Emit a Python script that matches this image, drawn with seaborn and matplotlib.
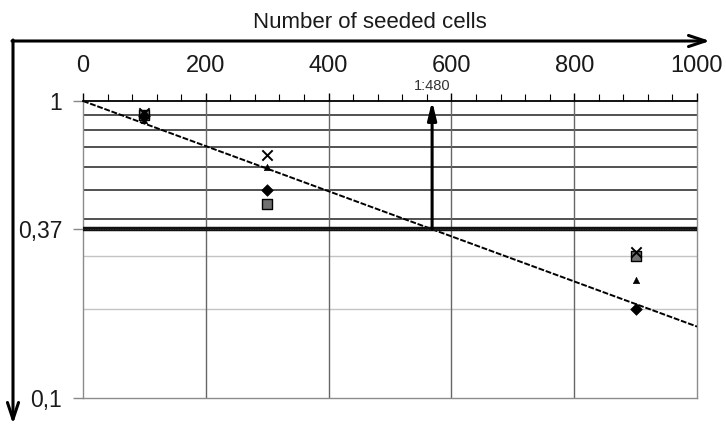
import numpy as np
import pandas as pd
import matplotlib
matplotlib.use("Agg")
import matplotlib.pyplot as plt
from matplotlib.patches import FancyArrowPatch
from matplotlib.ticker import FixedLocator, NullLocator, MultipleLocator
import seaborn as sns

# Seeded cells per well and the fraction of negative wells for each replicate
cells = [100, 300, 900]
rep_cross = [0.91, 0.66, 0.31]
rep_square = [0.90, 0.45, 0.30]
rep_diamond = [0.89, 0.50, 0.20]
rep_triangle = [0.86, 0.60, 0.25]

# Poisson fit through the origin (fraction negative = 1 at 0 cells)
fit_cells = [0, 1000]
fit_fraction = [1.0, 0.174]

# 37 % negative wells marks one responding cell per well
threshold = 0.37
frequency_label = "1:480"

x_ticks = [0, 200, 400, 600, 800, 1000]
y_ticks = [0.1, 0.37, 1.0]
y_tick_labels = ["0,1", "0,37", "1"]
y_grid = [0.2, 0.3, 0.4, 0.5, 0.6, 0.7, 0.8, 0.9]

sns.set_theme(style="white")
plt.rcParams["font.family"] = ["Liberation Sans", "DejaVu Sans"]
plt.rcParams["text.color"] = "#1a1a1a"

fig = plt.figure(figsize=(7.26, 4.26), dpi=100)
ax = fig.add_axes([83 / 726, 28 / 426, 614 / 726, 297 / 426])
ax.set_yscale("log")
ax.set_xlim(0, 1000)
ax.set_ylim(0.1, 1.0)

# grid
for v in y_grid:
    ax.axhline(v, color="#333333" if v >= 0.4 else "#c4c4c4",
               lw=1.2 if v >= 0.4 else 1.0, zorder=1)
for v in x_ticks[1:-1]:
    ax.axvline(v, color="#666666", lw=1.0, zorder=1)

# fitted line
fit_df = pd.DataFrame({"cells": fit_cells, "fraction": fit_fraction})
sns.lineplot(data=fit_df, x="cells", y="fraction", ax=ax, color="black",
             lw=1.4, linestyle=(0, (3, 0.9)), zorder=3)

# 37 % level: heavy line with a faint dotted texture
ax.axhline(threshold, color="#111111", lw=3.2, zorder=4)
ax.axhline(threshold, color="#555555", lw=0.6, linestyle=(0, (0.6, 1.4)), zorder=4)

# replicates
data = pd.DataFrame({"cells": cells, "cross": rep_cross, "square": rep_square,
                     "diamond": rep_diamond, "triangle": rep_triangle})
sns.scatterplot(data=data, x="cells", y="square", ax=ax, marker="s", s=55,
                color="#707070", edgecolor="black", linewidth=1.0, zorder=5)
sns.scatterplot(data=data, x="cells", y="diamond", ax=ax, marker="D", s=35,
                color="black", edgecolor="black", zorder=5)
sns.scatterplot(data=data, x="cells", y="triangle", ax=ax, marker="^", s=22,
                color="black", edgecolor="black", zorder=5)
sns.scatterplot(data=data, x="cells", y="cross", ax=ax, marker="x", s=55,
                color="black", linewidth=1.4, zorder=6)

# cell number giving 37 % negative wells, from the fit
slope = np.log(fit_fraction[1] / fit_fraction[0]) / (fit_cells[1] - fit_cells[0])
x_cross = np.log(threshold / fit_fraction[0]) / slope
ax.annotate("", xy=(x_cross, 1.0), xytext=(x_cross, threshold),
            arrowprops=dict(arrowstyle="-|>,head_length=0.9,head_width=0.22",
                            color="black", lw=2.2, shrinkA=0, shrinkB=0),
            zorder=7)
ax.annotate(frequency_label, xy=(x_cross, 1.0), xytext=(0, 6),
            textcoords="offset points", ha="center", va="bottom", fontsize=10.5,
            color="#333333")

# axes styling
ax.xaxis.tick_top()
ax.set_xticks(x_ticks)
ax.set_xticklabels([str(t) for t in x_ticks])
ax.xaxis.set_minor_locator(MultipleLocator(40))
ax.tick_params(axis="x", which="major", direction="out", length=6, width=1,
               color="black", labelsize=17, pad=11, labelcolor="#1a1a1a")
ax.tick_params(axis="x", which="minor", direction="out", length=5, width=0.8,
               color="black", top=True, bottom=False)
ax.yaxis.set_major_locator(FixedLocator(y_ticks))
ax.yaxis.set_minor_locator(NullLocator())
ax.set_yticklabels(y_tick_labels)
ax.tick_params(axis="y", which="major", direction="out", length=7, width=1,
               color="#888888", labelsize=16.5, pad=8, left=True,
               labelcolor="#1a1a1a")
ax.set_xlabel("")
ax.set_ylabel("")
ax.grid(False)
ax.spines["top"].set_color("black")
ax.spines["top"].set_linewidth(1.3)
for side in ("left", "right", "bottom"):
    ax.spines[side].set_color("#8c8c8c")
    ax.spines[side].set_linewidth(1.0)

# axis arrows and title
W, H = 726, 426
def fig_xy(px, py):
    return (px / W, 1 - py / H)

fig.add_artist(FancyArrowPatch(fig_xy(12, 41), fig_xy(710, 41),
                               transform=fig.transFigure,
                               arrowstyle="->,head_length=12,head_width=4",
                               color="black", lw=2.2, shrinkA=0, shrinkB=0))
fig.add_artist(FancyArrowPatch(fig_xy(13, 40), fig_xy(13, 424),
                               transform=fig.transFigure,
                               arrowstyle="->,head_length=12,head_width=4",
                               color="black", lw=2.2, shrinkA=0, shrinkB=0))
fig.text(370 / W, 1 - 22 / H, "Number of seeded cells", ha="center",
         va="center", fontsize=16)

fig.savefig("out.png", dpi=100)
